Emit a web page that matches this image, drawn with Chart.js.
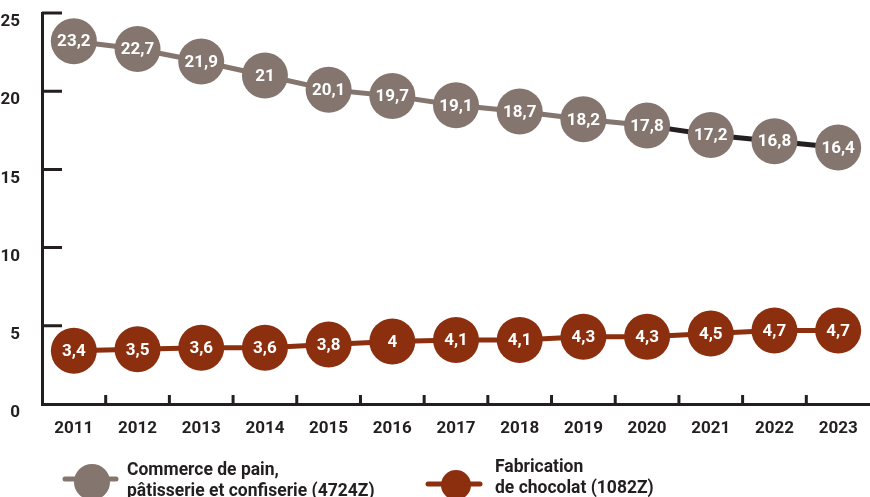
<!DOCTYPE html>
<html>
<head>
<meta charset="utf-8">
<script src="https://cdn.jsdelivr.net/npm/chart.js@4/dist/chart.umd.min.js"></script>
<style>
  html, body { margin: 0; padding: 0; background: #fff; }
  #wrap { width: 870px; height: 497px; }
</style>
</head>
<body>
<div id="wrap"><canvas id="chart" width="870" height="497"></canvas></div>
<script>
// Données
const years = ['2011', '2012', '2013', '2014', '2015', '2016', '2017', '2018', '2019', '2020', '2021', '2022', '2023'];
const commerceValues = [23.2, 22.7, 21.9, 21, 20.1, 19.7, 19.1, 18.7, 18.2, 17.8, 17.2, 16.8, 16.4];
const chocolatValues = [3.4, 3.5, 3.6, 3.6, 3.8, 4, 4.1, 4.1, 4.3, 4.3, 4.5, 4.7, 4.7];
const yTickValues = [0, 5, 10, 15, 20, 25];
const commerceLabel = ['Commerce de pain,', 'pâtisserie et confiserie (4724Z)'];
const chocolatLabel = ['Fabrication', 'de chocolat (1082Z)'];

const GREY = '#85756f';
const BROWN = '#8b2f0f';
const DARK = '#231f20';
const FONT = 'Roboto, "Liberation Sans", sans-serif';

function fmt(v) {
    return String(v).replace('.', ',');
}

// petits traits des axes, dessinés vers l'intérieur
const axisMarks = {
    id: 'axisMarks',
    afterDatasetsDraw(chart) {
        const ctx = chart.ctx;
        const x = chart.scales.x;
        const y = chart.scales.y;
        const area = chart.chartArea;
        ctx.save();
        ctx.strokeStyle = DARK;
        ctx.lineWidth = 3;
        ctx.beginPath();
        yTickValues.forEach(v => {
            if (v === 0) return;
            const py = y.getPixelForValue(v);
            ctx.moveTo(area.left, py);
            ctx.lineTo(area.left + 20, py);
        });
        for (let i = 0; i < years.length - 1; i++) {
            const px = (x.getPixelForValue(i) + x.getPixelForValue(i + 1)) / 2;
            ctx.moveTo(px, area.bottom);
            ctx.lineTo(px, area.bottom - 9);
        }
        ctx.stroke();
        ctx.restore();
    }
};

// valeurs écrites dans les ronds
const pointValues = {
    id: 'pointValues',
    afterDatasetsDraw(chart) {
        const ctx = chart.ctx;
        ctx.save();
        ctx.fillStyle = '#ffffff';
        ctx.font = 'bold 17px ' + FONT;
        ctx.textAlign = 'center';
        ctx.textBaseline = 'middle';
        chart.data.datasets.forEach((ds, di) => {
            chart.getDatasetMeta(di).data.forEach((pt, i) => {
                ctx.fillText(fmt(ds.data[i]), pt.x, pt.y + 1);
            });
        });
        ctx.restore();
    }
};

// légende en bas
const bottomLegend = {
    id: 'bottomLegend',
    afterDraw(chart) {
        const ctx = chart.ctx;
        const items = [
            { color: chart.data.datasets[0].backgroundColor, text: commerceLabel, x1: 65, x2: 116, cx: 92, cy: 482, r: 18, ly: 479, tx: 127, ty: 475 },
            { color: chart.data.datasets[1].backgroundColor, text: chocolatLabel, x1: 428, x2: 480, cx: 456, cy: 485, r: 15, ly: 484, tx: 495, ty: 472 }
        ];
        ctx.save();
        items.forEach(it => {
            ctx.strokeStyle = it.color;
            ctx.lineWidth = 5;
            ctx.lineCap = 'round';
            ctx.beginPath();
            ctx.moveTo(it.x1, it.ly);
            ctx.lineTo(it.x2, it.ly);
            ctx.stroke();
            ctx.fillStyle = it.color;
            ctx.beginPath();
            ctx.arc(it.cx, it.cy, it.r, 0, Math.PI * 2);
            ctx.fill();
            ctx.fillStyle = DARK;
            ctx.font = 'bold 17.5px ' + FONT;
            ctx.textAlign = 'left';
            ctx.textBaseline = 'alphabetic';
            it.text.forEach((line, k) => {
                ctx.fillText(line, it.tx, it.ty + k * 21);
            });
        });
        ctx.restore();
    }
};

window.onload = function() {
    const ctx = document.getElementById('chart').getContext('2d');
    new Chart(ctx, {
        type: 'line',
        data: {
            labels: years,
            datasets: [{
                label: commerceLabel.join(' '),
                data: commerceValues,
                borderColor: GREY,
                backgroundColor: GREY,
                borderWidth: 5,
                pointRadius: 23,
                pointHoverRadius: 23,
                pointBorderWidth: 0,
                segment: {
                    borderColor: c => c.p0DataIndex >= 9 ? DARK : GREY
                }
            }, {
                label: chocolatLabel.join(' '),
                data: chocolatValues,
                borderColor: BROWN,
                backgroundColor: BROWN,
                borderWidth: 5,
                pointRadius: 23,
                pointHoverRadius: 23,
                pointBorderWidth: 0
            }]
        },
        options: {
            responsive: false,
            animation: false,
            clip: false,
            layout: {
                autoPadding: false,
                padding: { top: 13, right: 0, bottom: 53, left: 0 }
            },
            plugins: {
                legend: { display: false },
                tooltip: { enabled: false }
            },
            scales: {
                x: {
                    offset: true,
                    grid: { display: false },
                    border: { display: true, color: DARK, width: 3 },
                    ticks: {
                        color: DARK,
                        padding: 7,
                        maxRotation: 0,
                        font: { family: FONT, size: 17, weight: 'bold' }
                    },
                    afterFit: s => {
                        s.height = 40;
                        s.paddingLeft = 0;
                        s.paddingRight = 0;
                    }
                },
                y: {
                    min: 0,
                    max: 25,
                    grid: { display: false },
                    border: { display: true, color: DARK, width: 3 },
                    ticks: {
                        stepSize: 5,
                        color: DARK,
                        padding: 14,
                        labelOffset: 9,
                        font: { family: FONT, size: 17, weight: 'bold' }
                    },
                    afterFit: s => {
                        s.width = 42;
                        s.paddingTop = 0;
                        s.paddingBottom = 0;
                    }
                }
            }
        },
        plugins: [axisMarks, pointValues, bottomLegend]
    });
};
</script>
</body>
</html>
